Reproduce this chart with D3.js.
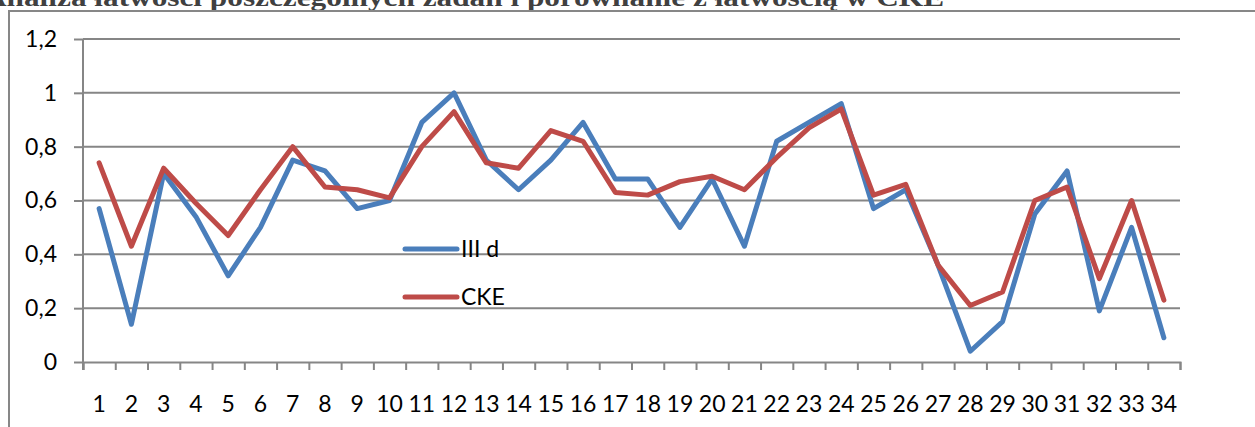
<!DOCTYPE html>
<html>
<head>
<meta charset="utf-8">
<script src="https://cdn.jsdelivr.net/npm/d3@7"></script>
<style>
  body { margin: 0; background: #fff; }
  svg { display: block; }
</style>
</head>
<body>
<div id="chart"></div>
<script>
// data
var questions = d3.range(1, 35).map(String);
var seriesNames = ["III d", "CKE"];
var classValues = [0.57, 0.14, 0.70, 0.54, 0.32, 0.50, 0.75, 0.71, 0.57, 0.60,
                   0.89, 1.00, 0.75, 0.64, 0.75, 0.89, 0.68, 0.68, 0.50, 0.68,
                   0.43, 0.82, 0.89, 0.96, 0.57, 0.64, 0.36, 0.04, 0.15, 0.55,
                   0.71, 0.19, 0.50, 0.09];
var ckeValues = [0.74, 0.43, 0.72, 0.59, 0.47, 0.64, 0.80, 0.65, 0.64, 0.61,
                 0.80, 0.93, 0.74, 0.72, 0.86, 0.82, 0.63, 0.62, 0.67, 0.69,
                 0.64, 0.76, 0.87, 0.94, 0.62, 0.66, 0.36, 0.21, 0.26, 0.60,
                 0.65, 0.31, 0.60, 0.23];
var yTicks = [0, 0.2, 0.4, 0.6, 0.8, 1, 1.2];
var yTickLabels = ["0", "0,2", "0,4", "0,6", "0,8", "1", "1,2"];
var title = "Analiza łatwości poszczególnych zadań i porównanie z łatwością w CKE";

var W = 1255, H = 427;
var margin = {top: 39, right: 75, bottom: 65, left: 83},
    width = 1180 - margin.left,
    height = 362 - margin.top;

var svg = d3.select("#chart")
  .append("svg")
  .attr("width", W)
  .attr("height", H);

// page title, cut by the top edge like in the scan
svg.append("text")
  .attr("x", -16)
  .attr("y", 5.5)
  .attr("textLength", 960)
  .attr("lengthAdjust", "spacingAndGlyphs")
  .style("font-family", "'Liberation Serif', serif")
  .style("font-weight", "bold")
  .style("font-size", "26px")
  .style("fill", "#404040")
  .text(title);

// chart frame (only top and left visible)
svg.append("path")
  .attr("d", "M9,427 V11 H1255")
  .attr("fill", "none")
  .attr("stroke", "#878787")
  .attr("stroke-width", 2);

var g = svg.append("g")
  .attr("transform", "translate(" + margin.left + "," + margin.top + ")");

var x = d3.scaleBand()
  .domain(questions)
  .range([0, width])
  .padding(0);

var xEdge = d3.scaleLinear()
  .domain([0, questions.length])
  .range([0, width]);

var y = d3.scaleLinear()
  .domain([0, 1.2])
  .range([height, 0]);

// gridlines
g.selectAll("line.grid")
  .data(yTicks.slice(1))
  .enter()
  .append("line")
    .attr("class", "grid")
    .attr("x1", 0)
    .attr("x2", width)
    .attr("y1", function(d) { return y(d); })
    .attr("y2", function(d) { return y(d); })
    .attr("stroke", "#868686")
    .attr("stroke-width", 2);

// y axis
var yAxis = g.append("g")
  .call(d3.axisLeft(y)
    .tickValues(yTicks)
    .tickSize(9)
    .tickPadding(17)
    .tickFormat(function(d, i) { return yTickLabels[i]; }));

// x axis: tick marks on category edges
var xTicks = g.append("g")
  .attr("transform", "translate(0," + height + ")")
  .call(d3.axisBottom(xEdge)
    .tickValues(d3.range(questions.length + 1))
    .tickSize(8)
    .tickFormat(""));

// x axis labels in the middle of each category
var xLabels = g.append("g")
  .attr("transform", "translate(0," + height + ")")
  .call(d3.axisBottom(x).tickSize(0).tickPadding(34));
xLabels.select(".domain").remove();

[yAxis, xTicks].forEach(function(a) {
  a.selectAll("path, line").attr("stroke", "#868686").attr("stroke-width", 2);
});
yAxis.select(".domain").attr("d", "M0,0V" + (height + 8));

g.selectAll(".tick text")
  .style("font-family", "Lato, sans-serif")
  .style("font-size", "23px")
  .style("fill", "#000");

// lines
var colors = ["#4a7ebb", "#be4b48"];
var allSeries = [classValues, ckeValues];

var line = d3.line()
  .x(function(d, i) { return x(questions[i]) + x.bandwidth() / 2; })
  .y(function(d) { return y(d); });

g.selectAll("path.series")
  .data(allSeries)
  .enter()
  .append("path")
    .attr("class", "series")
    .attr("d", line)
    .attr("fill", "none")
    .attr("stroke", function(d, i) { return colors[i]; })
    .attr("stroke-width", 5)
    .attr("stroke-linejoin", "round")
    .attr("stroke-linecap", "round");

// legend
var legend = svg.append("g");
var legendY = [249, 297];

legend.selectAll("line")
  .data(seriesNames)
  .enter()
  .append("line")
    .attr("x1", 405)
    .attr("x2", 457)
    .attr("y1", function(d, i) { return legendY[i]; })
    .attr("y2", function(d, i) { return legendY[i]; })
    .attr("stroke", function(d, i) { return colors[i]; })
    .attr("stroke-width", 5)
    .attr("stroke-linecap", "round");

legend.selectAll("text")
  .data(seriesNames)
  .enter()
  .append("text")
    .attr("x", 461)
    .attr("y", function(d, i) { return legendY[i] + 8; })
    .style("font-family", "Lato, sans-serif")
    .style("font-size", "23px")
    .style("fill", "#000")
    .text(function(d) { return d; });
</script>
</body>
</html>
